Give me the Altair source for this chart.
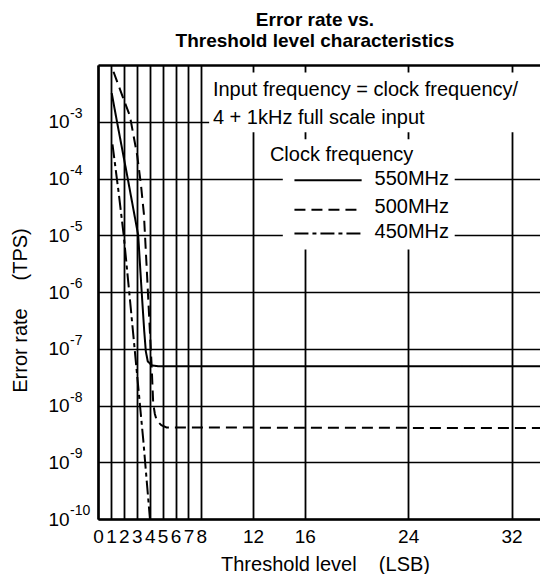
import json
import altair as alt
import pandas as pd

# ---------------- data ----------------
series_names = ["550MHz", "500MHz", "450MHz"]

x_550 = [1.06, 1.47, 2.3, 3.11, 3.38, 3.58, 3.70, 3.85, 4.15, 4.7, 34.2]
y_550 = [3.2e-3, 1.0e-3, 1.0e-4, 1.0e-5, 1.0e-6, 2.0e-7, 9.0e-8, 6.0e-8, 5.1e-8, 4.9e-8, 4.9e-8]

x_500 = [1.2, 1.9, 2.47, 3.04, 3.32, 3.55, 3.75, 3.95, 4.15, 4.27, 4.4, 4.55, 4.9, 5.3, 34.2]
y_500 = [7.6e-3, 2.8e-3, 1.26e-3, 2.5e-4, 7.9e-5, 2.4e-5, 3.2e-6, 4.0e-7, 5.0e-8, 1.1e-8,
         7.1e-9, 5.4e-9, 4.5e-9, 4.1e-9, 4.0e-9]

x_450 = [1.12, 1.6, 2.0, 2.5, 3.0, 3.5, 4.02]
y_450 = [4.0e-4, 5.6e-5, 9.5e-6, 6.3e-7, 4.0e-8, 2.5e-9, 1.0e-10]

x_tick_values = [0, 1, 2, 3, 4, 5, 6, 7, 8, 12, 16, 24, 32]
y_tick_values = [1e-10, 1e-9, 1e-8, 1e-7, 1e-6, 1e-5, 1e-4, 1e-3, 1e-2]
y_tick_base = ["10", "10", "10", "10", "10", "10", "10", "10", ""]
y_tick_exponents = ["-10", "-9", "-8", "-7", "-6", "-5", "-4", "-3", ""]

title_lines = ["Error rate vs.", "Threshold level characteristics"]
x_title = "Threshold level\u00a0\u00a0\u00a0\u00a0(LSB)"
y_title = "Error rate\u00a0\u00a0\u00a0\u00a0\u00a0(TPS)"

note_lines = ["Input frequency = clock frequency/", "4 + 1kHz full scale input", "Clock frequency"]

# ---------------- tables built from the arrays ----------------
rows = []
for name, xs, ys in zip(series_names, [x_550, x_500, x_450], [y_550, y_500, y_450]):
    for i, (xv, yv) in enumerate(zip(xs, ys)):
        rows.append({"series": name, "x": xv, "y": yv, "order": i})
curves = pd.DataFrame(rows)

exps = pd.DataFrame({"y": y_tick_values, "exp": y_tick_exponents})
exps = exps[exps["exp"] != ""]

# annotation placement (in data units)
notes = pd.DataFrame({
    "x": [8.89, 8.89, 13.3],
    "y": [2.8e-3, 9.3e-4, 2.0e-4],
    "label": note_lines,
})
legend_lines = pd.DataFrame({
    "series": series_names,
    "x": [15.2, 15.2, 15.2],
    "x2": [20.4, 20.4, 20.4],
    "y": [9.3e-5, 2.8e-5, 1.07e-5],
})
legend_text = pd.DataFrame({
    "series": series_names,
    "x": [21.4, 21.4, 21.4],
    "y": [9.8e-5, 3.2e-5, 1.15e-5],
})
knockouts = pd.DataFrame({
    "x": [8.6, 14.3],
    "x2": [34.2, 27.6],
    "y": [7.4e-3, 4.9e-4],
    "y2": [6.5e-4, 5.6e-6],
})

FONT = "Liberation Sans, Arial, Helvetica, sans-serif"

x_scale = alt.Scale(domain=[0, 34.2], nice=False, zero=False)
y_scale = alt.Scale(type="log", domain=[1e-10, 1e-2], nice=False)

x_axis = alt.Axis(
    values=x_tick_values, format="d", grid=True, gridColor="black", gridOpacity=1,
    gridWidth=1.8, domain=True, domainColor="black", domainWidth=2.5, ticks=False,
    tickSize=0, labelFontSize=19, labelFont=FONT, labelColor="black", labelPadding=8,
    labelOverlap=False, labelFlush=False, title=x_title, titleFont=FONT,
    titleFontSize=20, titleFontWeight="normal", titleColor="black", titleX=227,
    titleY=51, titleAlign="center", titleBaseline="alphabetic",
)
label_expr = json.dumps(y_tick_base) + "[round(log(datum.value)/LN10)+10]"
y_axis = alt.Axis(
    values=y_tick_values, labelExpr=label_expr, grid=True, gridColor="black",
    gridOpacity=1,
    gridWidth={"condition": {"test": "datum.value > 0.005", "value": 2.5}, "value": 1.5},
    domain=True, domainColor="black", domainWidth=2.5, ticks=False, tickSize=0,
    labelAlign="left", labelBaseline="middle", labelPadding=50, labelFontSize=19,
    labelFont=FONT, labelColor="black", labelOverlap=False, labelFlush=False,
    title=y_title, titleFont=FONT, titleFontSize=20, titleFontWeight="normal",
    titleColor="black", titleAngle=270, titleX=-78, titleY=245, titleAlign="center",
    titleBaseline="middle",
)

X = lambda f="x": alt.X(f"{f}:Q", scale=x_scale, axis=x_axis)
Y = lambda f="y": alt.Y(f"{f}:Q", scale=y_scale, axis=y_axis)
dash = alt.StrokeDash(
    "series:N",
    scale=alt.Scale(domain=series_names, range=[[1, 0], [11, 6], [14, 4, 4, 4]]),
    legend=None,
)

lines = alt.Chart(curves).mark_line(color="black", strokeWidth=2, clip=True).encode(
    x=X(), y=Y(), strokeDash=dash, order="order:Q"
)
boxes = alt.Chart(knockouts).mark_rect(color="white").encode(
    x=X(), x2="x2:Q", y=Y(), y2="y2:Q"
)
note_marks = alt.Chart(notes).mark_text(
    align="left", baseline="alphabetic", fontSize=20, font=FONT, color="black"
).encode(x=X(), y=Y(), text="label:N")
legend_rules = alt.Chart(legend_lines).mark_rule(color="black", strokeWidth=2).encode(
    x=X(), x2="x2:Q", y=Y(), strokeDash=dash
)
legend_labels = alt.Chart(legend_text).mark_text(
    align="left", baseline="middle", fontSize=20, font=FONT, color="black"
).encode(x=X(), y=Y(), text="series:N")
exp_labels = alt.Chart(exps).mark_text(
    align="left", baseline="middle", fontSize=14, font=FONT, color="black", dy=-8
).encode(x=alt.value(-28), y=Y(), text="exp:N")

chart = alt.layer(boxes, lines, legend_rules, note_marks, legend_labels, exp_labels).properties(
    width=442,
    height=454,
    autosize=alt.AutoSizeParams(type="none"),
    padding={"left": 90, "top": 57, "right": 0, "bottom": 55},
    title=alt.Title(
        title_lines, fontSize=19, fontWeight="bold", font=FONT, color="black",
        anchor="middle", offset=5, lineHeight=21, dx=-4,
    ),
).configure_view(strokeWidth=0).configure(font=FONT)

chart.save("out.html", embed_options={"renderer": "svg", "actions": False})
